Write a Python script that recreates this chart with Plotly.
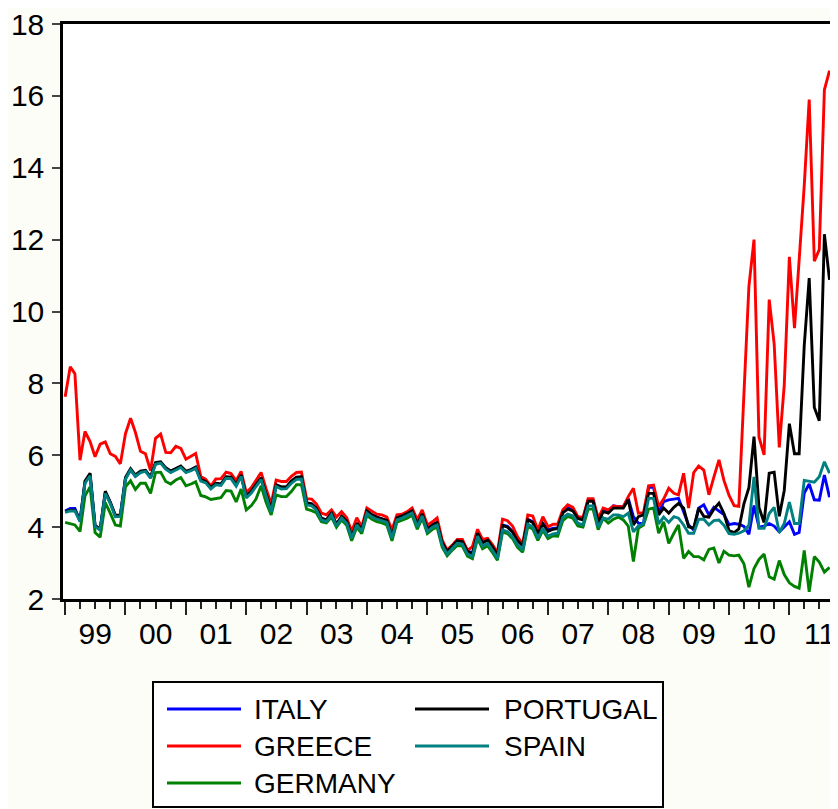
import plotly.graph_objects as go
import pandas as pd

# ---------------- data (monthly, Jan 1999 - Sep 2011) ----------------
start_month = "1999-01-01"
n_months = 153
dates = pd.date_range(start_month, periods=n_months, freq="MS")

italy = [
    4.45, 4.52, 4.52, 4.17, 5.24, 5.45, 4.03, 3.93, 4.96, 4.68, 4.31, 4.32,
    5.35, 5.60, 5.42, 5.53, 5.57, 5.38, 5.77, 5.80, 5.63, 5.55, 5.62, 5.68,
    5.54, 5.59, 5.66, 5.31, 5.26, 5.09, 5.21, 5.19, 5.39, 5.38, 5.17, 5.44,
    4.85, 4.99, 5.17, 5.36, 4.91, 4.49, 5.17, 5.11, 5.11, 5.27, 5.38, 5.39,
    4.67, 4.64, 4.52, 4.24, 4.19, 4.38, 4.07, 4.29, 4.15, 3.73, 4.10, 3.92,
    4.44, 4.33, 4.27, 4.23, 4.18, 3.74, 4.25, 4.30, 4.36, 4.44, 4.06, 4.36,
    3.95, 4.07, 4.14, 3.58, 3.33, 3.49, 3.63, 3.61, 3.34, 3.28, 3.84, 3.57,
    3.66, 3.46, 3.24, 4.06, 4.02, 3.88, 3.64, 3.50, 4.22, 4.15, 3.83, 4.11,
    3.92, 3.97, 3.98, 4.43, 4.54, 4.48, 4.26, 4.22, 4.75, 4.75, 4.16, 4.48,
    4.43, 4.59, 4.57, 4.57, 4.80, 4.29, 4.11, 4.09, 5.11, 5.11, 4.39, 4.71,
    4.76, 4.78, 4.80, 4.43, 4.06, 3.92, 4.53, 4.62, 4.34, 4.55, 4.45, 4.35,
    4.07, 4.10, 4.08, 4.02, 3.80, 4.60, 4.00, 4.03, 4.10, 4.03, 3.87, 4.00,
    4.15, 3.80, 3.85, 4.95, 5.20, 4.76, 4.75, 5.45, 4.83,
]

greece = [
    7.63, 8.46, 8.27, 5.86, 6.66, 6.38, 5.96, 6.31, 6.37, 6.04, 5.97, 5.76,
    6.60, 7.03, 6.64, 6.11, 6.04, 5.57, 6.47, 6.59, 6.08, 6.07, 6.25, 6.19,
    5.89, 5.97, 6.05, 5.41, 5.33, 5.14, 5.34, 5.35, 5.53, 5.49, 5.29, 5.55,
    4.96, 5.10, 5.29, 5.52, 5.07, 4.65, 5.31, 5.27, 5.27, 5.41, 5.52, 5.53,
    4.79, 4.78, 4.65, 4.39, 4.34, 4.48, 4.28, 4.43, 4.26, 3.88, 4.26, 4.01,
    4.53, 4.43, 4.36, 4.34, 4.28, 3.92, 4.34, 4.36, 4.43, 4.53, 4.20, 4.48,
    4.06, 4.15, 4.26, 3.64, 3.36, 3.50, 3.66, 3.66, 3.35, 3.46, 3.94, 3.66,
    3.69, 3.50, 3.29, 4.22, 4.18, 4.03, 3.73, 3.53, 4.34, 4.31, 3.92, 4.29,
    4.01, 4.08, 4.08, 4.48, 4.62, 4.55, 4.29, 4.27, 4.79, 4.79, 4.25, 4.53,
    4.48, 4.59, 4.57, 4.57, 4.85, 5.08, 4.39, 4.40, 5.15, 5.17, 4.57, 4.78,
    5.08, 4.94, 4.90, 5.50, 4.53, 5.52, 5.70, 5.59, 4.90, 5.39, 5.87, 5.30,
    4.88, 4.60, 4.58, 7.70, 10.70, 12.00, 6.51, 6.01, 10.33, 9.10, 6.22, 7.95,
    11.52, 9.54, 11.36, 13.50, 15.90, 11.40, 11.72, 16.17, 16.70,
]

germany = [
    4.13, 4.09, 4.06, 3.88, 4.87, 5.12, 3.85, 3.72, 4.68, 4.39, 4.06, 4.03,
    5.12, 5.29, 5.05, 5.22, 5.22, 4.94, 5.52, 5.53, 5.27, 5.20, 5.31, 5.38,
    5.15, 5.20, 5.26, 4.88, 4.84, 4.77, 4.80, 4.82, 5.02, 5.00, 4.70, 5.06,
    4.48, 4.60, 4.78, 5.15, 4.69, 4.34, 4.90, 4.85, 4.85, 4.99, 5.18, 5.18,
    4.50, 4.46, 4.40, 4.15, 4.12, 4.28, 4.00, 4.20, 4.05, 3.62, 4.00, 3.82,
    4.33, 4.22, 4.15, 4.12, 4.06, 3.62, 4.14, 4.19, 4.25, 4.33, 3.94, 4.25,
    3.82, 3.94, 4.00, 3.44, 3.20, 3.36, 3.49, 3.47, 3.19, 3.12, 3.68, 3.40,
    3.48, 3.28, 3.08, 3.86, 3.82, 3.68, 3.44, 3.30, 4.02, 3.95, 3.63, 3.91,
    3.68, 3.76, 3.75, 4.18, 4.30, 4.25, 4.03, 4.00, 4.50, 4.50, 3.93, 4.25,
    4.11, 4.22, 4.28, 4.20, 4.03, 3.04, 3.97, 4.06, 4.50, 4.53, 3.83, 4.15,
    3.55, 3.83, 4.06, 3.13, 3.32, 3.18, 3.18, 3.09, 3.38, 3.42, 3.00, 3.33,
    3.22, 3.20, 3.22, 2.98, 2.33, 2.85, 3.10, 3.25, 2.62, 2.55, 3.07, 2.68,
    2.45, 2.35, 2.30, 3.35, 2.20, 3.18, 3.03, 2.75, 2.88,
]

portugal = [
    4.43, 4.47, 4.47, 4.18, 5.28, 5.50, 4.05, 3.95, 5.00, 4.70, 4.33, 4.33,
    5.38, 5.63, 5.45, 5.56, 5.58, 5.40, 5.80, 5.82, 5.65, 5.56, 5.63, 5.70,
    5.56, 5.60, 5.67, 5.32, 5.27, 5.10, 5.22, 5.20, 5.40, 5.39, 5.18, 5.45,
    4.86, 5.00, 5.18, 5.37, 4.92, 4.50, 5.18, 5.12, 5.12, 5.28, 5.39, 5.40,
    4.68, 4.65, 4.53, 4.25, 4.20, 4.39, 4.08, 4.30, 4.16, 3.74, 4.11, 3.93,
    4.45, 4.34, 4.28, 4.24, 4.19, 3.75, 4.26, 4.31, 4.37, 4.45, 4.07, 4.37,
    3.94, 4.06, 4.12, 3.57, 3.32, 3.48, 3.62, 3.60, 3.32, 3.26, 3.83, 3.56,
    3.64, 3.44, 3.22, 4.04, 4.00, 3.86, 3.62, 3.48, 4.20, 4.13, 3.81, 4.09,
    3.88, 3.94, 3.96, 4.40, 4.50, 4.45, 4.24, 4.20, 4.72, 4.72, 4.13, 4.43,
    4.39, 4.53, 4.53, 4.53, 4.76, 4.06, 4.29, 4.34, 4.94, 4.94, 4.34, 4.53,
    4.39, 4.55, 4.66, 4.53, 4.01, 3.97, 4.53, 4.30, 4.28, 4.50, 4.67, 4.38,
    3.90, 3.85, 3.95, 4.65, 5.10, 6.52, 4.55, 4.13, 5.50, 5.53, 4.30, 5.02,
    6.88, 6.04, 6.04, 9.05, 10.93, 7.33, 6.96, 12.15, 10.88,
]

spain = [
    4.41, 4.45, 4.45, 4.15, 5.22, 5.43, 4.01, 3.92, 4.94, 4.66, 4.29, 4.30,
    5.33, 5.59, 5.41, 5.52, 5.55, 5.36, 5.75, 5.78, 5.61, 5.52, 5.59, 5.66,
    5.52, 5.57, 5.64, 5.28, 5.23, 5.06, 5.18, 5.16, 5.36, 5.35, 5.14, 5.41,
    4.81, 4.95, 5.13, 5.32, 4.87, 4.42, 5.13, 5.06, 5.07, 5.22, 5.33, 5.34,
    4.62, 4.59, 4.48, 4.20, 4.15, 4.34, 4.03, 4.25, 4.11, 3.69, 4.06, 3.88,
    4.39, 4.28, 4.22, 4.18, 4.13, 3.69, 4.20, 4.25, 4.31, 4.39, 4.01, 4.31,
    3.88, 4.00, 4.06, 3.50, 3.25, 3.41, 3.55, 3.53, 3.25, 3.18, 3.75, 3.47,
    3.55, 3.34, 3.13, 3.92, 3.87, 3.73, 3.50, 3.36, 4.08, 4.01, 3.69, 3.97,
    3.75, 3.81, 3.83, 4.27, 4.36, 4.31, 4.11, 4.06, 4.59, 4.59, 4.00, 4.25,
    4.22, 4.34, 4.34, 4.29, 4.39, 3.87, 4.03, 4.09, 4.80, 4.80, 4.09, 4.28,
    4.13, 4.29, 4.25, 4.06, 3.83, 3.83, 4.22, 4.22, 4.06, 4.18, 4.20, 4.05,
    3.82, 3.80, 3.83, 3.90, 4.05, 5.40, 3.97, 3.97, 4.38, 4.55, 3.85, 4.10,
    4.70, 4.10, 4.10, 5.30, 5.27, 5.25, 5.40, 5.82, 5.50,
]

series_names = ["ITALY", "GREECE", "GERMANY", "PORTUGAL", "SPAIN"]
series_values = [italy, greece, germany, portugal, spain]
series_colors = ["#0000FF", "#FF0000", "#008000", "#000000", "#008080"]

y_ticks = [2, 4, 6, 8, 10, 12, 14, 16, 18]

# ---------------- figure ----------------
# page body has an 8px default margin; the figure is sized so it fills the window
OFF = 8
W, H = 838 - OFF, 809 - OFF
L, R, T, B = 63 - OFF, 6, 24 - OFF, 210
FONT = "Liberation Sans, Arial, sans-serif"
LW = 2.9

fig = go.Figure()
for name, vals, col in zip(series_names, series_values, series_colors):
    fig.add_trace(go.Scatter(x=dates, y=vals, mode="lines", name=name,
                             line=dict(color=col, width=LW), showlegend=False))

fig.update_layout(
    width=W, height=H,
    margin=dict(l=L, r=R, t=T, b=B, pad=0),
    paper_bgcolor="#FDFDF8",
    plot_bgcolor="#FFFFFF",
    showlegend=False,
)

fig.update_xaxes(
    type="date",
    range=["1998-12-19", "2011-09-16"],
    showgrid=False, zeroline=False, automargin=False,
    showline=True, linecolor="#000000", linewidth=2.5, mirror=True,
    ticks="outside", ticklen=13, tickwidth=2, tickcolor="#222222",
    tick0="1999-01-01", dtick="M12", tickformat="%y",
    ticklabelmode="period", ticklabelstandoff=-7,
    ticklabeloverflow="allow",
    tickfont=dict(family=FONT, size=30, color="#000000"),
    minor=dict(dtick="M3", ticks="outside", ticklen=7, tickwidth=2,
               tickcolor="#222222", showgrid=False),
)
fig.update_yaxes(
    range=[2, 18], tickvals=y_ticks, automargin=False,
    showgrid=False, zeroline=False,
    showline=True, linecolor="#000000", linewidth=2.5, mirror=True,
    ticks="outside", ticklen=8, tickwidth=1.5, tickcolor="#444444",
    ticklabelstandoff=2, ticklabeloverflow="allow",
    tickfont=dict(family=FONT, size=30, color="#000000"),
)

# ---------------- legend box (drawn in paper space, page pixel positions) ----------------
PW, PH = W - L - R, H - T - B


def px_x(p):
    return (p - OFF - L) / PW


def px_y(p):
    return (H - B - (p - OFF)) / PH


fig.add_shape(type="rect", xref="paper", yref="paper",
              x0=px_x(153), x1=px_x(663), y0=px_y(807), y1=px_y(682),
              line=dict(color="#000000", width=2), fillcolor="#FFFFFF", layer="above")

legend_layout = {
    "ITALY": (0, 0), "GREECE": (0, 1), "GERMANY": (0, 2),
    "PORTUGAL": (1, 0), "SPAIN": (1, 1),
}
col_line = [(167, 241), (415, 489)]
col_text = [252, 502]
row_y = [709, 746, 783]

for name, col in zip(series_names, series_colors):
    c, r = legend_layout[name]
    yy = px_y(row_y[r])
    fig.add_shape(type="line", xref="paper", yref="paper",
                  x0=px_x(col_line[c][0]), x1=px_x(col_line[c][1]), y0=yy, y1=yy,
                  line=dict(color=col, width=LW), layer="above")
    fig.add_annotation(xref="paper", yref="paper", x=px_x(col_text[c]), y=yy,
                       text=name, showarrow=False, xanchor="left", yanchor="middle",
                       font=dict(family=FONT, size=28, color="#000000"))

fig.write_html("out.html")
